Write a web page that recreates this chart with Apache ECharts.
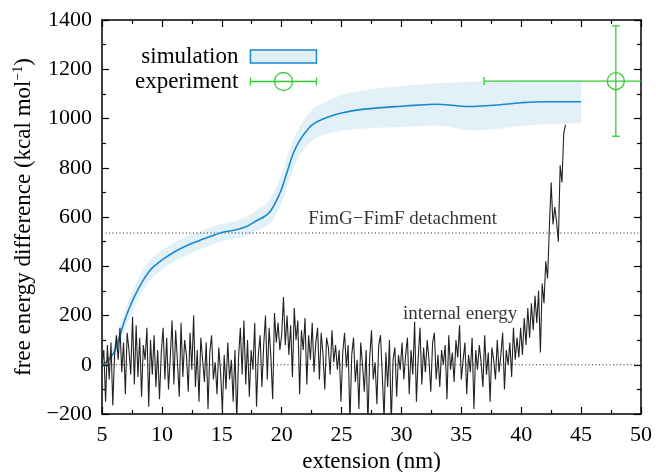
<!DOCTYPE html>
<html>
<head>
<meta charset="utf-8">
<script src="https://cdn.jsdelivr.net/npm/echarts@6/dist/echarts.min.js"></script>
<style>
html,body{margin:0;padding:0;background:#fff;}
#chart{width:656px;height:472px;}
</style>
</head>
<body>
<div id="chart"></div>
<script>
// ---- data ----
const simX = [5, 5.5, 6, 6.5, 7, 7.5, 8, 8.5, 9, 9.5, 10, 11, 12, 13, 14, 15, 16, 17, 18, 18.5, 19, 19.5, 20, 20.5, 21, 21.5, 22, 22.5, 23, 24, 25, 26, 28, 30, 32, 33, 34, 35, 36, 37, 38, 40, 42, 44, 45];
const simY = [0, 18, 50, 120, 195, 255, 305, 348, 383, 406, 425, 457, 482, 502, 520, 537, 546, 560, 588, 600, 620, 660, 715, 790, 862, 910, 945, 972, 988, 1008, 1022, 1032, 1043, 1050, 1056, 1058, 1055, 1050, 1049, 1052, 1055, 1064, 1068, 1068, 1068];
const simUpper = [0, 35, 80, 160, 235, 295, 345, 390, 423, 447, 464, 495, 520, 539, 556, 572, 582, 598, 630, 645, 670, 715, 775, 850, 920, 968, 1005, 1035, 1052, 1075, 1095, 1108, 1122, 1132, 1140, 1143, 1145, 1147, 1150, 1152, 1153, 1155, 1156, 1156, 1156];
const simLower = [0, 5, 25, 85, 155, 215, 265, 308, 343, 368, 386, 419, 444, 465, 484, 502, 510, 522, 546, 555, 572, 605, 655, 730, 800, 850, 885, 910, 925, 940, 950, 957, 962, 965, 970, 972, 965, 955, 950, 953, 958, 970, 978, 980, 981];

// internal energy, sampled every 0.15 nm starting at 5 nm
const ieStart = 5;
const ieStep = 0.15;
const ieY = [
  0, 60, -150, 80, -60, 90, -165, 40, 120, 20, 150, -30, 90, -120, 130, 60, -40, 195, -80, 160, -50, 110, -130, 80, 20, 150, -170, 100, -40, 120, -90, 60, -140, 50,
  150, -60, 110, -100, 30, 180, -80, 140, 10, -130, 170, -50, 100, 40, -110, 130, -20, 200, -90, 60, -150, 110, 20, -70, 90, -180, 50, 120, -60, 10, -120, 70, -30,
  -190, 40, -100, 90, -60, 20, -150, 60, -230, 30, 150, -40, 180, -80, 100, -130, 60, -20, 170, -170, 40, 120, -90, 80, 200, -60, 150, 30, -140, 210, 90, 170, 60,
  120, 275, 80, 200, 40, 160, -50, 230, 100, 180, -120, 140, 60, 190, -80, 120, 20, 170, -30, 90, 150, -60, 130, 40, -100, 110, 70, -40, 140, 10, 80, -20, 60,
  -150, 50, 130, -10, 80, -240, 40, 110, -70, 20, -180, 90, 0, -110, 60, -240, 30, 140, -60, 10, -160, 80, 120, -40, -220, 50, -90, 100, -240, 20, 70, -130, 40,
  -20, 90, -60, 40, 110, -120, 60, -40, 175, -150, 30, 150, -80, 70, -30, 100, 20, -110, 90, 130, -60, 40, -90, 60, 0, 80, -140, 120, -20, 50, -70, 100, 30,
  160, -60, 20, 90, -120, 40, -30, 110, -180, 60, -20, 80, 10, -90, 120, -40, 50, -150, 70, 20, -60, 100, -30, 40, 130, -100, 60, 0, 90, -50, 150, 20, 110,
  30, 150, 40, 190, 80, 230, 110, 250, 140, 280, 170, 300, 50, 330, 250, 420, 350, 560, 740, 570, 640, 580, 500, 810, 740, 940, 975
];

const expX = [47.9];
const expY = [1152];
const expXErr = [11];
const expYErr = [224];

const detachLevel = 535;
const zeroLevel = 0;

const xTicks = {min: 5, max: 50, interval: 5};
const yTicks = {min: -200, max: 1400, interval: 200};

// ---- chart ----
const FONT = 'Liberation Serif';
const BLUE = '#1a88cc';
const BAND = '#e2f0f8';
const GREEN = '#33cc33';

const ieData = ieY.map((v, i) => [+(ieStart + i * ieStep).toFixed(3), v]);
const simData = simX.map((x, i) => [x, simY[i]]);
const expData = expX.map((x, i) => [x, expY[i], expXErr[i], expYErr[i]]);

const chart = echarts.init(document.getElementById('chart'), null, {renderer: 'canvas'});

function fmt(v) { return v < 0 ? '\u2212' + Math.abs(v) : String(v); }

function axisCommon(showLabel) {
  return {
    axisLine: {show: true, onZero: false, lineStyle: {color: '#000', width: 1.5}},
    axisTick: {show: true, inside: true, length: 7, lineStyle: {color: '#000', width: 1.2}},
    minorTick: {show: true, splitNumber: 2, length: 4, lineStyle: {color: '#000', width: 1.2}},
    splitLine: {show: false},
    axisLabel: {show: showLabel, color: '#000', fontFamily: FONT, fontSize: 22, margin: 10, formatter: fmt}
  };
}

const option = {
  backgroundColor: '#fff',
  animation: false,
  grid: {left: 102, right: 15, top: 20, bottom: 58, containLabel: false, outerBoundsMode: 'none'},
  legend: {
    orient: 'vertical',
    left: 135,
    top: 45,
    padding: 0,
    itemGap: 2,
    itemWidth: 66,
    itemHeight: 18,
    align: 'right',
    selectedMode: false,
    textStyle: {fontFamily: FONT, fontSize: 23, color: '#000', width: 110, align: 'right', padding: [0, 7, 0, 0]},
    data: [
      {name: 'simulation', icon: 'path://M0,2.5L66,2.5L66,15.5L0,15.5Z', itemStyle: {color: BAND, borderColor: BLUE, borderWidth: 1.5}},
      {name: 'experiment', icon: 'path://M0,9L66,9M0,5L0,13M66,5L66,13M42,9A9,9,0,1,1,24,9A9,9,0,1,1,42,9', itemStyle: {color: 'none', borderColor: GREEN, borderWidth: 1.3}}
    ]
  },
  xAxis: [
    Object.assign({type: 'value', position: 'bottom', min: xTicks.min, max: xTicks.max, interval: xTicks.interval,
      name: 'extension (nm)', nameLocation: 'middle', nameGap: 33,
      nameTextStyle: {fontFamily: FONT, fontSize: 23, color: '#000'}}, axisCommon(true)),
    Object.assign({type: 'value', position: 'top', min: xTicks.min, max: xTicks.max, interval: xTicks.interval}, axisCommon(false))
  ],
  yAxis: [
    Object.assign({type: 'value', position: 'left', min: yTicks.min, max: yTicks.max, interval: yTicks.interval,
      name: 'free energy difference (kcal mol{sup|\u22121})', nameLocation: 'middle', nameGap: 52,
      nameTextStyle: {fontFamily: FONT, fontSize: 23, color: '#000',
        rich: {sup: {fontFamily: FONT, fontSize: 14, color: '#000', verticalAlign: 'bottom', padding: [0, 0, 11, 0]}}}}, axisCommon(true)),
    Object.assign({type: 'value', position: 'right', min: yTicks.min, max: yTicks.max, interval: yTicks.interval}, axisCommon(false))
  ],
  series: [
    {
      name: 'simulation',
      type: 'custom',
      z: 1,
      silent: true,
      data: [[simX[0], simY[0]]],
      renderItem: function (params, api) {
        const pts = [];
        for (let i = 0; i < simX.length; i++) pts.push(api.coord([simX[i], simUpper[i]]));
        for (let i = simX.length - 1; i >= 0; i--) pts.push(api.coord([simX[i], simLower[i]]));
        return {type: 'polygon', shape: {points: pts}, style: {fill: BAND, stroke: null}};
      },
      itemStyle: {color: BAND, borderColor: BLUE}
    },
    {
      name: 'zero', type: 'line', z: 2, symbol: 'none', silent: true,
      data: [[xTicks.min, zeroLevel], [xTicks.max, zeroLevel]],
      lineStyle: {color: '#222', width: 1, type: [1, 2.5]}
    },
    {
      name: 'detach', type: 'line', z: 2, symbol: 'none', silent: true,
      data: [[xTicks.min, detachLevel], [xTicks.max, detachLevel]],
      lineStyle: {color: '#222', width: 1, type: [1, 2.5]}
    },
    {
      name: 'simulation', type: 'line', z: 3, symbol: 'none', smooth: 0.4,
      data: simData,
      lineStyle: {color: BLUE, width: 1.6},
      itemStyle: {color: BAND, borderColor: BLUE}
    },
    {
      name: 'internal energy', type: 'line', z: 4, symbol: 'none',
      data: ieData,
      lineStyle: {color: '#222', width: 1.1},
      clip: true
    },
    {
      name: 'experiment', type: 'custom', z: 5,
      data: expData,
      renderItem: function (params, api) {
        const cs = params.coordSys;
        const x = api.value(0), y = api.value(1), ex = api.value(2), ey = api.value(3);
        const c = api.coord([x, y]);
        const l = api.coord([x - ex, y]);
        const r = api.coord([x + ex, y]);
        const t = api.coord([x, y + ey]);
        const b = api.coord([x, y - ey]);
        const rightEdge = cs.x + cs.width;
        const rx = Math.min(r[0], rightEdge);
        const st = {stroke: GREEN, lineWidth: 1.3, fill: null};
        const children = [
          {type: 'line', shape: {x1: l[0], y1: l[1], x2: rx, y2: c[1]}, style: st},
          {type: 'line', shape: {x1: l[0], y1: l[1] - 4, x2: l[0], y2: l[1] + 4}, style: st},
          {type: 'line', shape: {x1: t[0], y1: t[1], x2: b[0], y2: b[1]}, style: st},
          {type: 'line', shape: {x1: t[0] - 4, y1: t[1], x2: t[0] + 4, y2: t[1]}, style: st},
          {type: 'line', shape: {x1: b[0] - 4, y1: b[1], x2: b[0] + 4, y2: b[1]}, style: st},
          {type: 'circle', shape: {cx: c[0], cy: c[1], r: 8.5}, style: {stroke: GREEN, lineWidth: 1.3, fill: null}}
        ];
        if (r[0] <= rightEdge) children.push({type: 'line', shape: {x1: r[0], y1: r[1] - 4, x2: r[0], y2: r[1] + 4}, style: st});
        return {type: 'group', children: children};
      },
      itemStyle: {color: 'none', borderColor: GREEN}
    },
    {
      name: 'labels', type: 'scatter', z: 6, symbolSize: 0, silent: true,
      data: [
        {value: [30.1, 592], label: {formatter: 'FimG\u2212FimF detachment'}},
        {value: [34.9, 206], label: {formatter: 'internal energy'}}
      ],
      label: {show: true, position: 'inside', fontFamily: FONT, fontSize: 19, color: '#000'}
    }
  ]
};
chart.setOption(option);
</script>
</body>
</html>
